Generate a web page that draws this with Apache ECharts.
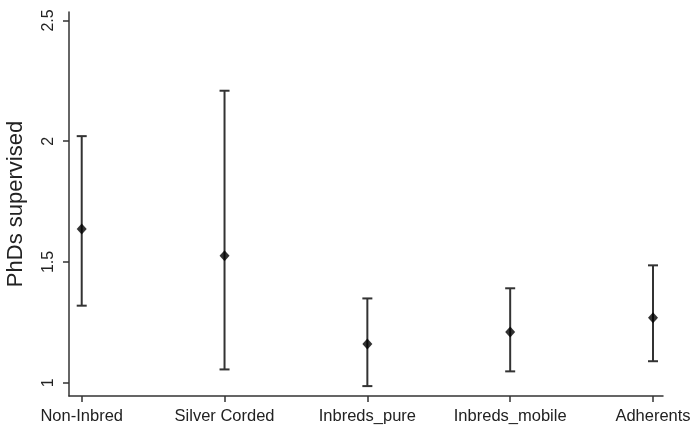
<!DOCTYPE html>
<html>
<head>
<meta charset="utf-8">
<script src="https://cdn.jsdelivr.net/npm/echarts@6/dist/echarts.min.js"></script>
<style>html,body{margin:0;padding:0;background:#fff}#c{width:692px;height:429px}</style>
</head>
<body>
<div id="c"></div>
<script>
const categories = ['Non-Inbred', 'Silver Corded', 'Inbreds_pure', 'Inbreds_mobile', 'Adherents'];
const means = [1.637, 1.526, 1.160, 1.210, 1.269];
const lower = [1.319, 1.055, 0.986, 1.047, 1.089];
const upper = [2.021, 2.209, 1.349, 1.391, 1.486];
const yTicks = [1, 1.5, 2, 2.5];

const positions = categories.map((c, i) => i + 1);
const barData = positions.map((p, i) => [p, lower[i], upper[i]]);
const pointData = positions.map((p, i) => [p, means[i]]);

const chart = echarts.init(document.getElementById('c'), null, {renderer: 'canvas'});
const textColor = '#222';
const lineColor = '#333';
const font = 'Liberation Sans, Arial, sans-serif';
chart.setOption({
  animation: false,
  backgroundColor: '#fff',
  grid: {left: 69, right: 29, top: 12, bottom: 33, containLabel: false, outerBoundsMode: 'none'},
  xAxis: {
    type: 'value',
    min: 0.911, max: 5.07,
    splitLine: {show: false},
    axisLine: {show: true, lineStyle: {color: lineColor, width: 1.5}},
    axisTick: {show: true, customValues: positions, length: 6, lineStyle: {color: lineColor, width: 1.5}},
    axisLabel: {
      customValues: positions,
      formatter: v => categories[Math.round(v) - 1] || '',
      color: textColor, fontSize: 16.5, fontFamily: font, margin: 12
    }
  },
  yAxis: {
    type: 'value',
    min: 0.945, max: 2.535,
    name: 'PhDs supervised',
    nameLocation: 'middle',
    nameRotate: 90,
    nameGap: 42,
    nameTextStyle: {color: textColor, fontSize: 22, fontFamily: font},
    splitLine: {show: false},
    axisLine: {show: true, lineStyle: {color: lineColor, width: 1.5}},
    axisTick: {show: true, customValues: yTicks, length: 6, lineStyle: {color: lineColor, width: 1.5}},
    axisLabel: {
      customValues: yTicks,
      rotate: 90,
      color: textColor, fontSize: 16, fontFamily: font, margin: 12
    }
  },
  series: [
    {
      type: 'custom',
      data: barData,
      renderItem: function (params, api) {
        const x = api.value(0);
        const lo = api.coord([x, api.value(1)]);
        const hi = api.coord([x, api.value(2)]);
        const hw = 5;
        const style = {stroke: '#333', lineWidth: 2};
        return {
          type: 'group',
          children: [
            {type: 'line', shape: {x1: lo[0], y1: lo[1], x2: hi[0], y2: hi[1]}, style: style},
            {type: 'line', shape: {x1: lo[0] - hw, y1: lo[1], x2: lo[0] + hw, y2: lo[1]}, style: style},
            {type: 'line', shape: {x1: hi[0] - hw, y1: hi[1], x2: hi[0] + hw, y2: hi[1]}, style: style}
          ]
        };
      },
      z: 2
    },
    {
      type: 'scatter',
      data: pointData,
      symbol: 'diamond',
      symbolSize: [10, 11],
      itemStyle: {color: '#000'},
      z: 3
    }
  ]
});
</script>
</body>
</html>
